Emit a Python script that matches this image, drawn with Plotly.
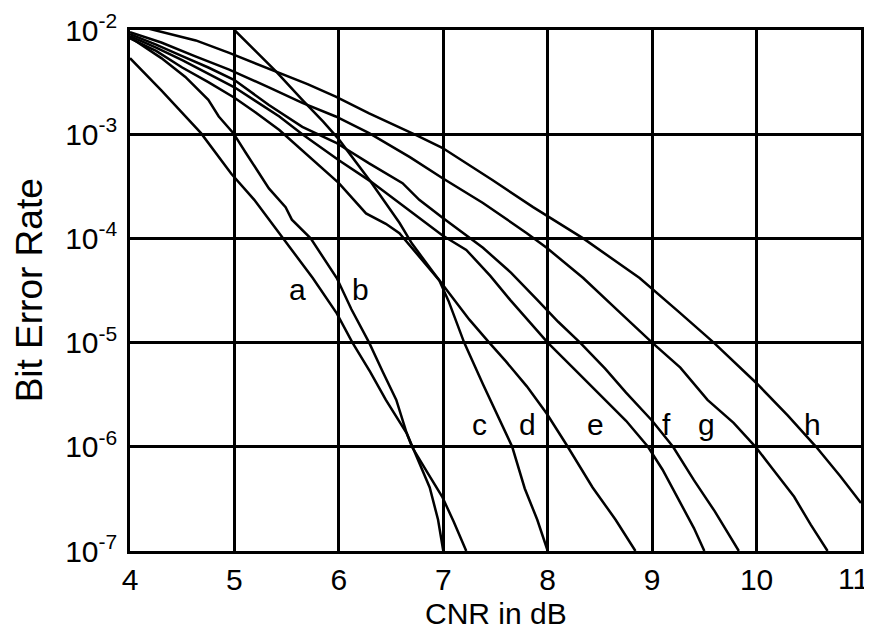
import numpy as np
import plotly.graph_objects as go

# CNR (dB) and log10(BER), one pair of lists per curve
x_a = [4.0, 4.30, 4.68, 4.97, 5.19, 5.33, 5.47, 5.75, 5.98, 6.13, 6.30, 6.45, 6.65, 6.70, 6.85, 6.99, 7.10, 7.22]
l_a = [-2.27, -2.58, -2.99, -3.38, -3.63, -3.82, -4.00, -4.38, -4.72, -5.00, -5.28, -5.55, -5.87, -6.00, -6.25, -6.48, -6.72, -7.00]

x_b = [4.0, 4.30, 4.53, 4.75, 4.85, 4.99, 5.11, 5.23, 5.33, 5.49, 5.55, 5.73, 5.98, 6.12, 6.29, 6.42, 6.55, 6.65, 6.72, 6.80, 6.87, 6.95, 7.00]
l_b = [-2.07, -2.27, -2.45, -2.67, -2.83, -2.99, -3.18, -3.37, -3.52, -3.70, -3.82, -4.00, -4.38, -4.68, -5.00, -5.28, -5.55, -5.87, -6.03, -6.22, -6.39, -6.70, -7.00]

x_c = [4.0, 4.25, 4.5, 4.75, 5.0, 5.2, 5.43, 5.7, 6.0, 6.26, 6.45, 6.58, 6.80, 6.96, 7.05, 7.20, 7.38, 7.52, 7.66, 7.78, 7.90, 8.00]
l_c = [-2.08, -2.20, -2.36, -2.50, -2.65, -2.79, -2.96, -3.20, -3.47, -3.76, -3.86, -3.95, -4.21, -4.40, -4.60, -5.00, -5.40, -5.70, -6.00, -6.40, -6.70, -7.00]

x_d = [5.0, 5.2, 5.4, 5.65, 5.85, 6.0, 6.3, 6.58, 6.70, 6.90, 7.09, 7.25, 7.44, 7.60, 7.80, 7.99, 8.18, 8.43, 8.65, 8.84]
l_d = [-2.00, -2.20, -2.40, -2.67, -2.88, -3.05, -3.45, -3.85, -4.05, -4.32, -4.57, -4.78, -5.00, -5.18, -5.42, -5.68, -5.98, -6.39, -6.70, -7.00]

x_e = [4.0, 4.25, 4.5, 4.75, 5.0, 5.2, 5.43, 5.65, 6.0, 6.3, 6.58, 6.99, 7.22, 7.45, 7.64, 8.00, 8.25, 8.50, 8.75, 8.96, 9.10, 9.25, 9.40, 9.50]
l_e = [-2.06, -2.17, -2.29, -2.42, -2.55, -2.68, -2.83, -3.00, -3.25, -3.45, -3.66, -3.97, -4.11, -4.36, -4.59, -5.00, -5.25, -5.50, -5.75, -6.00, -6.22, -6.50, -6.78, -7.00]

x_f = [4.0, 4.25, 4.5, 4.75, 5.0, 5.33, 5.65, 5.97, 6.29, 6.61, 6.77, 6.99, 7.38, 7.65, 7.90, 8.10, 8.31, 8.55, 8.75, 9.00, 9.20, 9.40, 9.60, 9.83]
l_f = [-2.04, -2.14, -2.25, -2.36, -2.48, -2.72, -2.93, -3.08, -3.28, -3.47, -3.63, -3.80, -4.09, -4.33, -4.59, -4.80, -5.00, -5.25, -5.48, -5.75, -6.00, -6.32, -6.62, -7.00]

x_g = [4.0, 4.30, 4.62, 4.95, 5.33, 5.65, 5.97, 6.29, 6.68, 6.99, 7.38, 7.80, 7.99, 8.34, 8.68, 9.00, 9.27, 9.53, 9.78, 9.99, 10.16, 10.36, 10.52, 10.68]
l_g = [-2.02, -2.12, -2.25, -2.38, -2.55, -2.70, -2.83, -2.99, -3.22, -3.42, -3.66, -3.95, -4.09, -4.38, -4.70, -5.00, -5.24, -5.55, -5.77, -6.00, -6.22, -6.48, -6.75, -7.00]

x_h = [4.15, 4.40, 4.63, 4.95, 5.40, 5.70, 5.97, 6.29, 6.74, 6.99, 7.47, 7.86, 8.34, 8.60, 8.88, 9.25, 9.59, 10.00, 10.30, 10.57, 10.80, 11.00]
l_h = [-1.98, -2.04, -2.10, -2.22, -2.40, -2.52, -2.64, -2.80, -3.01, -3.13, -3.44, -3.70, -4.00, -4.18, -4.38, -4.70, -5.00, -5.39, -5.70, -6.00, -6.28, -6.54]

curve_names = ["a", "b", "c", "d", "e", "f", "g", "h"]
curve_x = [x_a, x_b, x_c, x_d, x_e, x_f, x_g, x_h]
curve_l = [l_a, l_b, l_c, l_d, l_e, l_f, l_g, l_h]

# curve label positions (CNR, log10 BER)
label_x = [5.60, 6.21, 7.35, 7.81, 8.46, 9.14, 9.52, 10.54]
label_l = [-4.49, -4.49, -5.79, -5.79, -5.79, -5.79, -5.79, -5.79]

x_ticks = [4, 5, 6, 7, 8, 9, 10, 11]
x_ticktext = ["4", "5", "6", "7", "8", "9", "10", "11"]
y_exps = [-2, -3, -4, -5, -6, -7]

FONT = "Liberation Sans, Arial, sans-serif"
LW = 2.5

fig = go.Figure()
for name, xs, ls in zip(curve_names, curve_x, curve_l):
    fig.add_trace(go.Scatter(
        x=xs, y=10 ** np.array(ls, dtype=float), mode="lines", name=name,
        line=dict(color="black", width=LW), showlegend=False, hoverinfo="skip"))

for name, lx, ll in zip(curve_names, label_x, label_l):
    fig.add_annotation(x=lx, y=ll, text=name, showarrow=False,
                       font=dict(family=FONT, size=30, color="black"))

# last x tick label sits at the right edge: drawn right-anchored so it stays inside
fig.add_annotation(x=x_ticks[-1], xref="x", yref="paper", y=0, yanchor="top",
                   xanchor="right", xshift=10, yshift=-9, text=x_ticktext[-1],
                   showarrow=False, font=dict(family=FONT, size=30, color="black"))

# axis titles
fig.add_annotation(xref="paper", yref="paper", x=0.5, y=-0.12, text="CNR in dB",
                   showarrow=False, xanchor="center", yanchor="middle",
                   font=dict(family=FONT, size=30, color="black"))
fig.add_annotation(xref="paper", yref="paper", x=-0.137, y=0.5, text="Bit Error Rate",
                   showarrow=False, xanchor="center", yanchor="middle", textangle=-90,
                   font=dict(family=FONT, size=37, color="black"))

fig.update_layout(
    width=864, height=629,
    margin=dict(l=122, r=11, t=22, b=86, autoexpand=False),
    paper_bgcolor="white", plot_bgcolor="white",
    font=dict(family=FONT, size=30, color="black"),
    showlegend=False,
)
fig.update_xaxes(
    range=[4, 11], tickvals=x_ticks, ticktext=x_ticktext[:-1] + [""],
    showgrid=True, gridcolor="black", gridwidth=LW,
    showline=True, linecolor="black", linewidth=LW, mirror=True,
    ticks="", zeroline=False, automargin=False,
    tickfont=dict(family=FONT, size=30),
)
fig.update_yaxes(
    type="log", range=[-7, -2],
    tickvals=[10.0 ** e for e in y_exps],
    ticktext=["10<sup>%d</sup>" % e for e in y_exps],
    showgrid=True, gridcolor="black", gridwidth=LW,
    showline=True, linecolor="black", linewidth=LW, mirror=True,
    ticks="", zeroline=False, automargin=False, ticklabelstandoff=4,
    ticklabeloverflow="allow",
    tickfont=dict(family=FONT, size=30),
)

fig.write_html("out.html")
